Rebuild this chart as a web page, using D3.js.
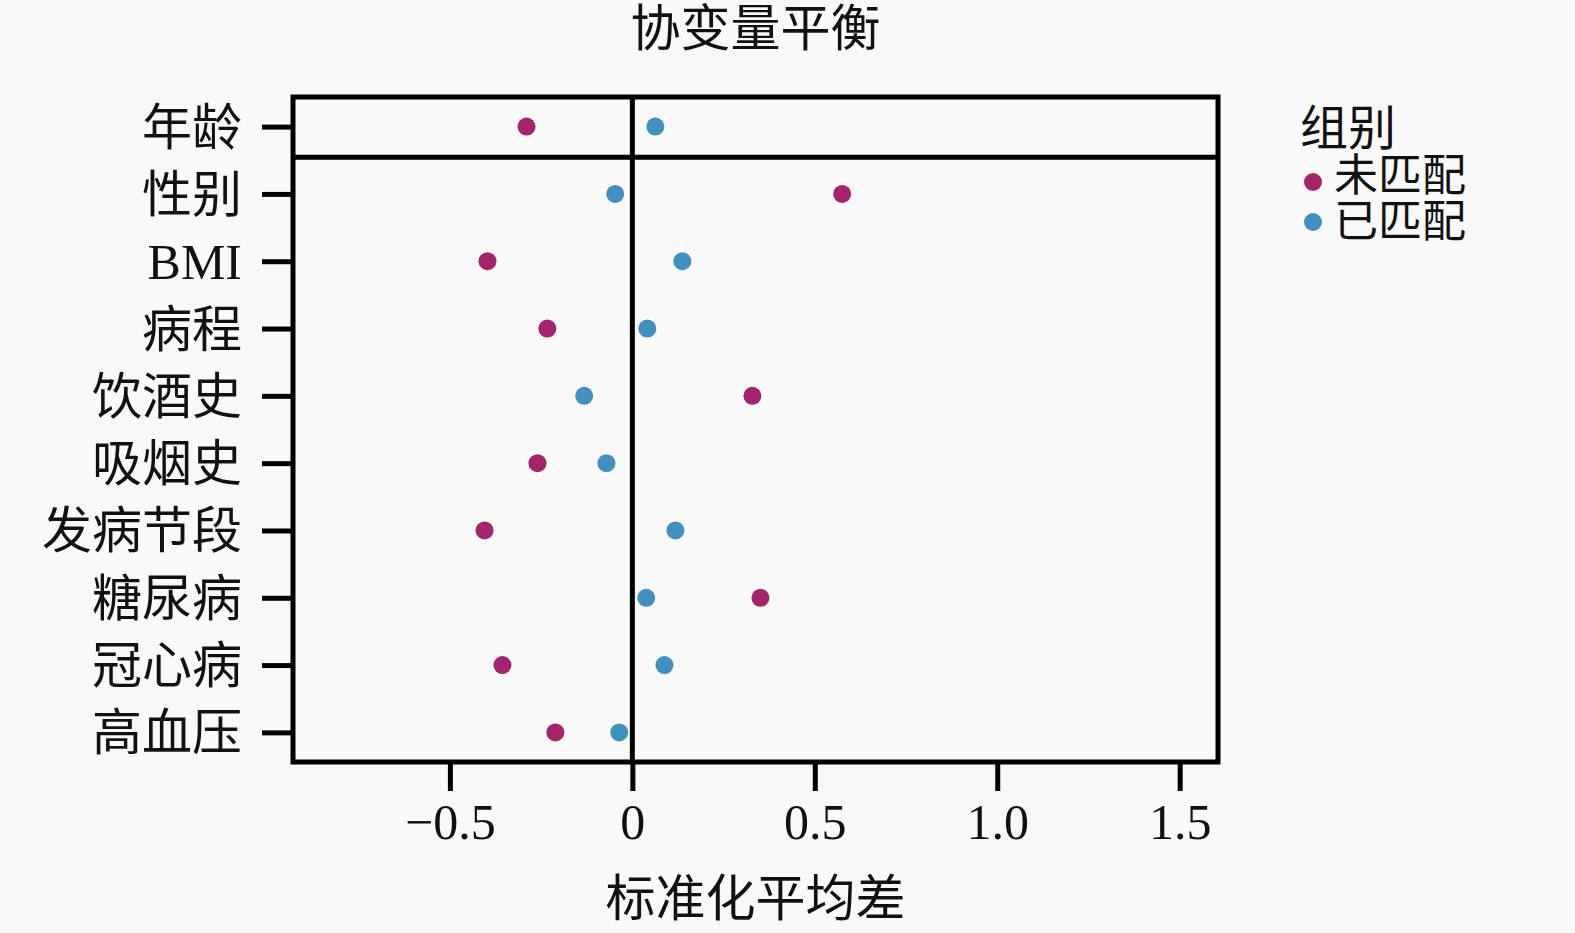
<!DOCTYPE html>
<meta charset="utf-8">
<style>
  body { margin: 0; background: #f9f9f9; }
  text { font-family: "Liberation Serif", "Noto Sans CJK SC", serif; fill: #111; }
</style>
<svg width="1575" height="933"></svg>
<script src="https://cdn.jsdelivr.net/npm/d3@7"></script>
<script>

var covariates = ["年龄", "性别", "BMI", "病程", "饮酒史", "吸烟史", "发病节段", "糖尿病", "冠心病", "高血压"];
var unmatched = [-0.29, 0.575, -0.397, -0.233, 0.329, -0.26, -0.405, 0.351, -0.356, -0.211];
var matched = [0.063, -0.047, 0.137, 0.041, -0.132, -0.071, 0.118, 0.038, 0.088, -0.036];
var groups = ["未匹配", "已匹配"];
var xTicks = [-0.5, 0, 0.5, 1.0, 1.5];

var svg = d3.select("svg"),
    margin = {top: 97, right: 357, bottom: 171, left: 293},
    width = svg.attr("width") - margin.left - margin.right,
    height = svg.attr("height") - margin.top - margin.bottom;

svg.append("rect").attr("width", 1575).attr("height", 933).attr("fill", "#f9f9f9");

var x = d3.scaleLinear().domain([-0.93, 1.605]).range([0, width]),
    y = d3.scalePoint().domain(covariates).range([0, height]).padding(0.44),
    color = d3.scaleOrdinal().domain(groups).range(["#a3246a", "#4190c0"]);

var g = svg.append("g")
    .attr("transform", "translate(" + margin.left + "," + margin.top + ")");

// zero line
g.append("line")
    .attr("x1", x(0)).attr("x2", x(0))
    .attr("y1", 0).attr("y2", height)
    .attr("stroke", "#000").attr("stroke-width", 5);

// separator between first and other rows
var sepY = (y(covariates[0]) + y(covariates[1])) / 2 - 3;
g.append("line")
    .attr("x1", 0).attr("x2", width)
    .attr("y1", sepY).attr("y2", sepY)
    .attr("stroke", "#000").attr("stroke-width", 5);

var data = [];
covariates.forEach(function(c, i) {
  data.push({cov: c, group: "未匹配", value: unmatched[i]});
  data.push({cov: c, group: "已匹配", value: matched[i]});
});

g.selectAll(".dot")
    .data(data)
  .enter().append("circle")
    .attr("class", "dot")
    .attr("cx", function(d) { return x(d.value); })
    .attr("cy", function(d) { return y(d.cov); })
    .attr("r", 9)
    .attr("fill", function(d) { return color(d.group); });

// frame
g.append("rect")
    .attr("width", width).attr("height", height)
    .attr("fill", "none").attr("stroke", "#000").attr("stroke-width", 5);

var xAxis = g.append("g")
    .attr("transform", "translate(0," + height + ")")
    .call(d3.axisBottom(x).tickValues(xTicks).tickSize(29).tickPadding(12)
      .tickFormat(function(d) { return d === 0 ? "0" : d3.format(".1f")(d).replace("-", "\u2212"); }));

var yAxis = g.append("g")
    .call(d3.axisLeft(y).tickSize(31).tickPadding(20));

[xAxis, yAxis].forEach(function(a) {
  a.select(".domain").remove();
  a.selectAll("line").attr("stroke", "#000").attr("stroke-width", 5);
  a.selectAll("text").attr("font-size", 50).attr("fill", "#111")
    .attr("font-family", "Liberation Serif, Noto Sans CJK SC, serif");
});
yAxis.selectAll("text").attr("dy", "0.35em");

// title
svg.append("text")
    .attr("x", margin.left + width / 2).attr("y", 46)
    .attr("text-anchor", "middle").attr("font-size", 50)
    .text("协变量平衡");

// x label
svg.append("text")
    .attr("x", margin.left + width / 2).attr("y", 916)
    .attr("text-anchor", "middle").attr("font-size", 50)
    .text("标准化平均差");

// legend
var legend = svg.append("g").attr("transform", "translate(1300,0)");
legend.append("text").attr("x", 0).attr("y", 145).attr("font-size", 48).text("组别");
groups.forEach(function(grp, i) {
  legend.append("circle")
      .attr("cx", 13).attr("cy", 182 + i * 40).attr("r", 9)
      .attr("fill", color(grp));
  legend.append("text")
      .attr("x", 34).attr("y", 176 + i * 46).attr("dy", "0.35em")
      .attr("font-size", 44).text(grp);
});

</script>
